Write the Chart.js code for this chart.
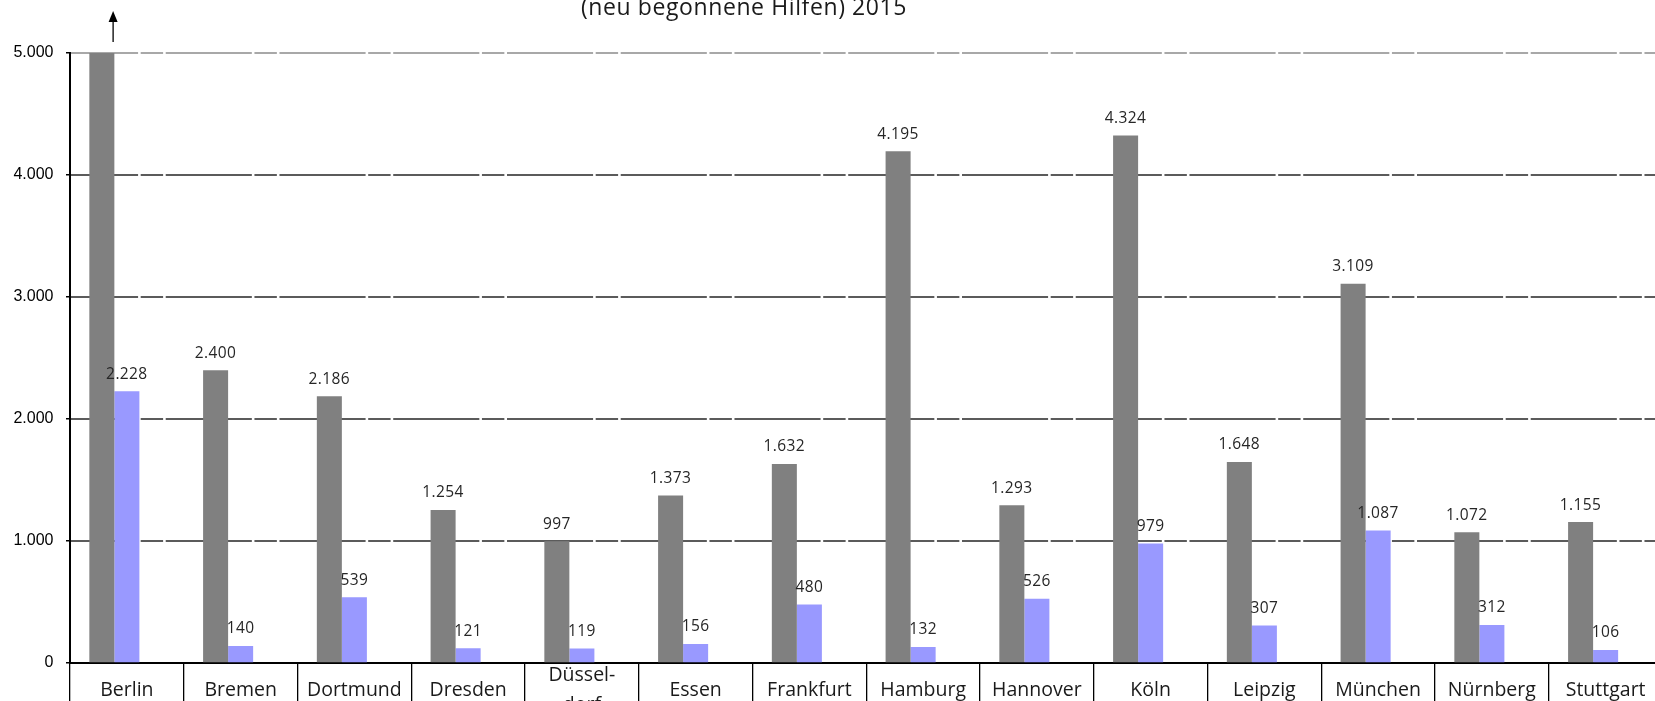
<!DOCTYPE html>
<html lang="de">
<head>
<meta charset="utf-8">
<title>Hilfen 2015</title>
<script src="https://cdn.jsdelivr.net/npm/chart.js@4/dist/chart.umd.min.js"></script>
<style>
  html, body { margin: 0; padding: 0; background: #fff; overflow: hidden; }
  #wrap { position: relative; width: 1680px; height: 701px; }
  canvas { display: block; }
</style>
</head>
<body>
<div id="wrap"><canvas id="chart" width="1680" height="701"></canvas></div>
<script>
// Städte (Kategorien)
const cities = ['Berlin', 'Bremen', 'Dortmund', 'Dresden', ['Düssel-', 'dorf'], 'Essen', 'Frankfurt',
                'Hamburg', 'Hannover', 'Köln', 'Leipzig', 'München', 'Nürnberg', 'Stuttgart'];
// Reihe 1 (grau) – Berlin liegt über dem Achsenmaximum
const seriesGray = [6200, 2400, 2186, 1254, 997, 1373, 1632, 4195, 1293, 4324, 1648, 3109, 1072, 1155];
// Reihe 2 (violett)
const seriesViolet = [2228, 140, 539, 121, 119, 156, 480, 132, 526, 979, 307, 1087, 312, 106];
// Reihe 3 (ohne Werte)
const seriesEmpty = [0, 0, 0, 0, 0, 0, 0, 0, 0, 0, 0, 0, 0, 0];
// Skalenwerte der y-Achse
const yTicks = [0, 1000, 2000, 3000, 4000, 5000];
const titleLine = '(neu begonnene Hilfen) 2015';

const yMax = yTicks[yTicks.length - 1];
const fmt = n => String(n).replace(/\B(?=(\d{3})+(?!\d))/g, '.');

// gestrichelte Gitterlinien, unterbrochen an den rechten Kanten der 2. und 3. Säule jeder Gruppe
const dashedGrid = {
  id: 'dashedGrid',
  beforeDatasetsDraw(chart) {
    const { ctx, chartArea: a, scales: { y } } = chart;
    const m1 = chart.getDatasetMeta(1).data, m2 = chart.getDatasetMeta(2).data;
    const gaps = [];
    m1.forEach((b, i) => {
      gaps.push(b.x + b.width / 2);
      gaps.push(m2[i].x + m2[i].width / 2);
    });
    ctx.save();
    ctx.lineWidth = 1.6;
    yTicks.forEach(v => {
      if (v === 0) return;
      const py = y.getPixelForValue(v);
      ctx.strokeStyle = v === yMax ? '#8c8c8c' : '#262626';
      ctx.beginPath();
      let start = a.left + 1;
      gaps.forEach(g => {
        ctx.moveTo(start, py);
        ctx.lineTo(g - 1.3, py);
        start = g + 1.3;
      });
      ctx.moveTo(start, py);
      ctx.lineTo(a.right, py);
      ctx.stroke();
    });
    ctx.restore();
  }
};

// Wertebeschriftungen, Pfeil für abgeschnittene Säulen, Titelzeile
const annotations = {
  id: 'annotations',
  afterDatasetsDraw(chart) {
    const { ctx, chartArea: a } = chart;
    ctx.save();
    ctx.font = '15.5px "Open Sans"';
    ctx.letterSpacing = '0.4px';
    ctx.fillStyle = '#262626';
    ctx.textAlign = 'center';
    ctx.textBaseline = 'middle';
    [0, 1].forEach(di => {
      const data = chart.data.datasets[di].data;
      chart.getDatasetMeta(di).data.forEach((b, i) => {
        const v = data[i];
        if (v > yMax) {
          const ax = b.x + b.width * 0.45;
          ctx.strokeStyle = '#000';
          ctx.lineWidth = 1.3;
          ctx.beginPath();
          ctx.moveTo(ax, a.top - 11);
          ctx.lineTo(ax, 20);
          ctx.stroke();
          ctx.fillStyle = '#000';
          ctx.beginPath();
          ctx.moveTo(ax, 11);
          ctx.lineTo(ax - 4.5, 22);
          ctx.lineTo(ax + 4.5, 22);
          ctx.closePath();
          ctx.fill();
          ctx.fillStyle = '#262626';
          return;
        }
        ctx.fillText(fmt(v), b.x, b.y - 17);
      });
    });
    ctx.font = '23px "Open Sans"';
    ctx.letterSpacing = '0.6px';
    ctx.fillStyle = '#1a1a1a';
    ctx.textBaseline = 'alphabetic';
    ctx.fillText(titleLine, 744, 15);
    ctx.restore();
  }
};

new Chart(document.getElementById('chart'), {
  type: 'bar',
  data: {
    labels: cities,
    datasets: [
      { label: 'Reihe 1', data: seriesGray, backgroundColor: '#808080' },
      { label: 'Reihe 2', data: seriesViolet, backgroundColor: '#9999ff' },
      { label: 'Reihe 3', data: seriesEmpty, backgroundColor: 'rgba(0,0,0,0)' }
    ]
  },
  options: {
    responsive: false,
    animation: false,
    events: [],
    layout: { padding: { top: 53, right: 17.5, left: 0, bottom: 0 } },
    datasets: { bar: { categoryPercentage: 0.66, barPercentage: 1.0 } },
    plugins: { legend: { display: false }, tooltip: { enabled: false }, title: { display: false } },
    scales: {
      x: {
        offset: true,
        afterFit(s) { s.height = 38; },
        grid: { display: true, drawOnChartArea: false, drawTicks: true, tickLength: 40,
                offset: true, color: '#000', lineWidth: 1.3 },
        border: { display: true, color: '#000', width: 2 },
        ticks: {
          autoSkip: false, maxRotation: 0, minRotation: 0,
          crossAlign: 'center', padding: -27.5,
          color: '#1a1a1a',
          font: { family: '"Open Sans"', size: 19.5, lineHeight: 1.52 }
        }
      },
      y: {
        min: 0, max: yMax,
        afterFit(s) { s.width = 70; },
        afterBuildTicks(s) { s.ticks = yTicks.map(v => ({ value: v })); },
        grid: { display: true, drawOnChartArea: false, drawTicks: true, tickLength: 4,
                color: '#000', lineWidth: 1.5 },
        border: { display: true, color: '#000', width: 2 },
        ticks: {
          padding: 12.5,
          color: '#000',
          font: { family: '"Liberation Sans", Arial, sans-serif', size: 16 },
          callback: v => fmt(v)
        }
      }
    }
  },
  plugins: [dashedGrid, annotations]
});
</script>
</body>
</html>
